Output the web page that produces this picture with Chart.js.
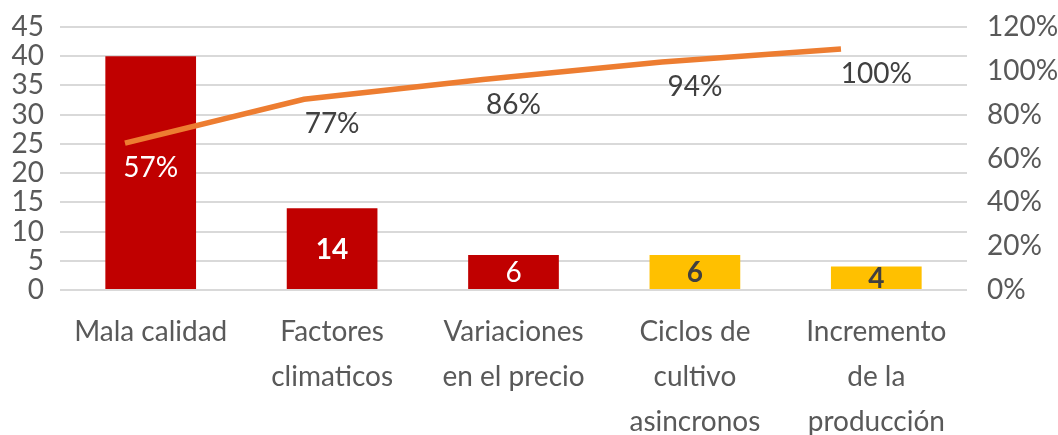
<!DOCTYPE html>
<html lang="es">
<head>
    <meta charset="UTF-8">
    <title>Pareto</title>
    <script src="https://cdn.jsdelivr.net/npm/chart.js"></script>
    <style>
        * { margin: 0; padding: 0; box-sizing: border-box; }
        body { background: #ffffff; }
        .chart-box { width: 1058px; height: 435px; position: relative; }
    </style>
</head>
<body>
    <div class="chart-box">
        <canvas id="paretoChart"></canvas>
    </div>

    <script>
        // data
        const categories = [
            ['Mala calidad'],
            ['Factores', 'climaticos'],
            ['Variaciones', 'en el precio'],
            ['Ciclos de', 'cultivo', 'asincronos'],
            ['Incremento', 'de la', 'producción']
        ];
        const counts = [40, 14, 6, 6, 4];
        const cumulativePct = [57, 77, 86, 94, 100];
        const countTicks = [0, 5, 10, 15, 20, 25, 30, 35, 40, 45];
        const pctTicks = [0, 20, 40, 60, 80, 100, 120];

        const barColors = ['#C00000', '#C00000', '#C00000', '#FFC000', '#FFC000'];
        const FONT = 'Lato, "Liberation Sans", sans-serif';
        const GREY = '#595959';

        // value labels drawn on the bars and under the line points
        const labelPlugin = {
            id: 'labelPlugin',
            afterDatasetsDraw(chart) {
                const ctx = chart.ctx;
                const bars = chart.getDatasetMeta(0).data;
                const pts = chart.getDatasetMeta(1).data;
                ctx.save();
                ctx.textAlign = 'center';
                ctx.textBaseline = 'middle';

                bars.forEach((bar, i) => {
                    if (i === 0) return;
                    const onRed = barColors[i] === '#C00000';
                    const bold = i !== 2;
                    ctx.font = (bold ? 'bold ' : '') + '28px ' + FONT;
                    ctx.fillStyle = onRed ? '#ffffff' : '#404040';
                    ctx.fillText(String(counts[i]), bar.x, (bar.y + bar.base) / 2 + 1);
                });

                pts.forEach((pt, i) => {
                    ctx.font = '28px ' + FONT;
                    ctx.fillStyle = i === 0 ? '#ffffff' : '#404040';
                    ctx.fillText(cumulativePct[i] + '%', bars[i].x, pt.y + 25);
                });
                ctx.restore();
            }
        };

        const ctx = document.getElementById('paretoChart').getContext('2d');
        new Chart(ctx, {
            type: 'bar',
            data: {
                labels: categories,
                datasets: [{
                    type: 'bar',
                    data: counts,
                    backgroundColor: barColors,
                    barPercentage: 0.5,
                    categoryPercentage: 1,
                    grouped: false,
                    xAxisID: 'x',
                    yAxisID: 'y',
                    order: 2
                }, {
                    type: 'line',
                    data: cumulativePct.map((v, i) => ({ x: i, y: v })),
                    borderColor: '#ED7D31',
                    borderWidth: 5.5,
                    pointRadius: 0,
                    fill: false,
                    tension: 0,
                    xAxisID: 'xLine',
                    yAxisID: 'yLine',
                    order: 1
                }]
            },
            options: {
                responsive: true,
                maintainAspectRatio: false,
                animation: false,
                layout: { padding: { top: 23, left: 0, right: 0, bottom: 0 } },
                plugins: {
                    legend: { display: false },
                    tooltip: { enabled: false }
                },
                scales: {
                    x: {
                        offset: true,
                        grid: { display: false, drawTicks: false },
                        border: { display: false },
                        ticks: {
                            color: GREY,
                            font: { family: FONT, size: 28, lineHeight: 1.6 },
                            maxRotation: 0,
                            autoSkip: false,
                            padding: 20
                        },
                        afterFit(scale) { scale.height = 145; }
                    },
                    xLine: {
                        type: 'linear',
                        display: false,
                        offset: false,
                        grid: { offset: false },
                        min: -0.363,
                        max: 4.704
                    },
                    y: {
                        position: 'left',
                        min: 0,
                        max: 45,
                        afterBuildTicks(scale) { scale.ticks = countTicks.map(v => ({ value: v })); },
                        grid: { color: '#D9D9D9', lineWidth: 2, drawTicks: false },
                        border: { display: false },
                        ticks: {
                            color: GREY,
                            font: { family: FONT, size: 28, lineHeight: 0.5 },
                            autoSkip: false,
                            padding: 16
                        },
                        afterFit(scale) { scale.width = 60; }
                    },
                    yPct: {
                        position: 'right',
                        min: 0,
                        max: 120,
                        afterBuildTicks(scale) { scale.ticks = pctTicks.map(v => ({ value: v })); },
                        grid: { display: false, drawTicks: false },
                        border: { display: false },
                        ticks: {
                            color: GREY,
                            font: { family: FONT, size: 28, lineHeight: 0.5 },
                            autoSkip: false,
                            padding: 20,
                            callback: v => v + '%'
                        },
                        afterFit(scale) { scale.width = 91; }
                    },
                    yLine: {
                        display: false,
                        min: -10,
                        max: 110
                    }
                }
            },
            plugins: [labelPlugin]
        });
    </script>
</body>
</html>
